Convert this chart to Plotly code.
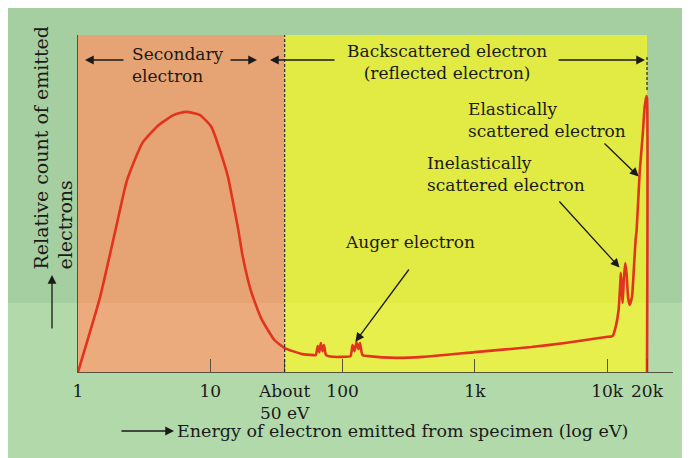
import numpy as np
import plotly.graph_objects as go

# ---------------- data ----------------
energy_ev = [1, 1.226, 1.47, 1.92, 2.35, 3.07, 4.08, 5.32, 6.52, 8.32,
             10.2, 11.8, 13.6, 15.4, 16.3, 17.5, 20.2, 24.2, 30.5, 36.5,
             49.6, 60.4, 62.7, 64.9, 66.7, 68.5, 70.4, 72.3, 75.0, 85.1,
             100, 114.8, 118.9, 123.1, 127.4, 131.9, 135.4, 141.4, 157, 255,
             406, 1000, 2670, 4810, 6870, 9820, 11000, 11600, 12200, 12600,
             12700, 13000, 13100, 13400, 13700, 14000, 14400, 14800, 15400, 15900,
             16400, 16700, 17600, 18600, 19200, 19800, 20000, 20000]
relative_count = [0, 0.116, 0.223, 0.421, 0.570, 0.680, 0.733, 0.763, 0.772, 0.763,
                  0.727, 0.659, 0.579, 0.472, 0.421, 0.347, 0.243, 0.160, 0.095, 0.071,
                  0.053, 0.050, 0.050, 0.077, 0.059, 0.086, 0.062, 0.080, 0.050, 0.045,
                  0.045, 0.047, 0.080, 0.062, 0.089, 0.068, 0.086, 0.050, 0.047, 0.042,
                  0.045, 0.059, 0.074, 0.086, 0.095, 0.104, 0.107, 0.134, 0.184, 0.273,
                  0.294, 0.223, 0.205, 0.282, 0.323, 0.294, 0.220, 0.199, 0.223, 0.303,
                  0.392, 0.421, 0.591, 0.709, 0.786, 0.819, 0.813, 0]

tick_values = [1, 10, 36.5, 100, 1000, 10000, 20000]
tick_labels = ["1", "10", "About<br>50 eV", "100", "1k", "10k", "20k"]

boundary_ev = 36.5          # secondary / backscattered boundary ("About 50 eV")
max_energy_ev = 20000       # primary beam energy
auger_point = (125, 0.09)
inelastic_point = (12400, 0.31)
elastic_point = (17300, 0.58)

# ---------------- styling ----------------
# the page body adds an 8px margin; coordinates below are page pixels
OFF = 8
W, H = 682, 450
PL, PR, PT, PB = 78, 673, 35, 372          # plot area in page pixels
PW, PH = PR - PL, PB - PT
FONT = "DejaVu Serif"
TXT = "#1a1a1a"
RED = "#e2331f"
DARK_GREEN = "#a6cfa1"
LIGHT_GREEN = "#b1d9aa"
ORANGE_TOP, ORANGE_BOT = "#e6a474", "#ecab7c"
YELLOW_TOP, YELLOW_BOT = "#e2eb43", "#e7ef4c"
AXIS = "#55533f"


def fx(px):
    return (px - PL) / PW


def fy(py):
    return (PB - py) / PH


band_y = fy(303)

fig = go.Figure()
fig.add_trace(go.Scatter(
    x=energy_ev, y=relative_count, mode="lines",
    line=dict(color=RED, width=2.6, shape="spline", smoothing=0.5),
    hoverinfo="skip", showlegend=False))

x_end = np.log10(max_energy_ev) + 26 / (569 / np.log10(max_energy_ev))

fig.update_layout(
    width=W, height=H,
    margin=dict(l=PL - OFF, r=W + OFF - PR, t=PT - OFF, b=H + OFF - PB, pad=0),
    paper_bgcolor=LIGHT_GREEN, plot_bgcolor="rgba(0,0,0,0)",
    font=dict(family=FONT, size=17, color=TXT),
    showlegend=False,
)
fig.update_xaxes(
    type="log", range=[0, x_end], tickvals=tick_values, ticktext=tick_labels,
    ticks="inside", ticklen=13, tickwidth=1, tickcolor=AXIS,
    showline=True, linecolor=AXIS, linewidth=1.3, ticklabelstandoff=3,
    showgrid=False, zeroline=False, tickfont=dict(family=FONT, size=17, color=TXT))
fig.update_yaxes(
    range=[0, 1], showline=True, linecolor=AXIS, linewidth=1.2,
    showticklabels=False, ticks="", showgrid=False, zeroline=False)

shapes = []
# page: darker upper band
shapes.append(dict(type="rect", xref="paper", yref="paper", x0=fx(0), x1=fx(W + OFF + 5),
                   y0=band_y, y1=fy(0), fillcolor=DARK_GREEN, line=dict(width=0), layer="below"))
# region shading
for x0, x1, ctop, cbot in [(1, boundary_ev, ORANGE_TOP, ORANGE_BOT),
                           (boundary_ev, max_energy_ev, YELLOW_TOP, YELLOW_BOT)]:
    shapes.append(dict(type="rect", xref="x", yref="y", x0=x0, x1=x1, y0=band_y, y1=1,
                       fillcolor=ctop, line=dict(width=0), layer="below"))
    shapes.append(dict(type="rect", xref="x", yref="y", x0=x0, x1=x1, y0=0, y1=band_y,
                       fillcolor=cbot, line=dict(width=0), layer="below"))
# dashed boundaries
shapes.append(dict(type="line", xref="x", yref="y", x0=boundary_ev, x1=boundary_ev, y0=0, y1=1,
                   line=dict(color="#222222", width=1.1, dash="3px,2px")))
shapes.append(dict(type="line", xref="x", yref="y", x0=max_energy_ev, x1=max_energy_ev,
                   y0=fy(90), y1=fy(57), line=dict(color="#222222", width=1.2, dash="3px,2px")))
fig.update_layout(shapes=shapes)

ARW = dict(showarrow=True, arrowhead=2, arrowsize=1.35, arrowwidth=1.3,
           arrowcolor="#1a1a1a", standoff=0, axref="pixel", ayref="pixel", text="")


def arrow_paper(hx, hy, tx, ty):
    fig.add_annotation(xref="paper", yref="paper", x=fx(hx), y=fy(hy),
                       ax=tx - hx, ay=ty - hy, **ARW)


def arrow_data(e, v, tx, ty):
    hx = PL + np.log10(e) / x_end * PW
    hy = PB - v * PH
    fig.add_annotation(xref="x", yref="y", x=np.log10(e), y=v,
                       ax=tx - hx, ay=ty - hy, **ARW)


def label(text, px, py, anchor="left", angle=0, yanchor="middle", size=17, align="left"):
    fig.add_annotation(xref="paper", yref="paper", x=fx(px), y=fy(py), text=text,
                       showarrow=False, xanchor=anchor, yanchor=yanchor, textangle=angle,
                       align=align, font=dict(family=FONT, size=size, color=TXT))


# region headers
label("Secondary<br>electron", 130, 65)
arrow_paper(85, 60, 125, 60)
arrow_paper(257, 60, 229, 60)
label("Backscattered electron<br>(reflected electron)", 447, 62, "center", align="center")
arrow_paper(270, 60, 336, 60)
arrow_paper(645, 60, 557, 60)

# peak labels
label("Elastically<br>scattered electron", 466, 120)
arrow_data(*elastic_point, 603, 142)
label("Inelastically<br>scattered electron", 425, 174)
arrow_data(*inelastic_point, 558, 200)
label("Auger electron", 343, 242)
arrow_data(*auger_point, 410, 268)

# axis titles
label("Energy of electron emitted from specimen (log eV)", 175, 431, size=17.5)
arrow_paper(174, 431, 120, 431)
label("Relative count of emitted<br>electrons", 53, 272, "center", -90, "bottom", size=19)
arrow_paper(52, 275, 52, 330)

fig.write_html("out.html")
